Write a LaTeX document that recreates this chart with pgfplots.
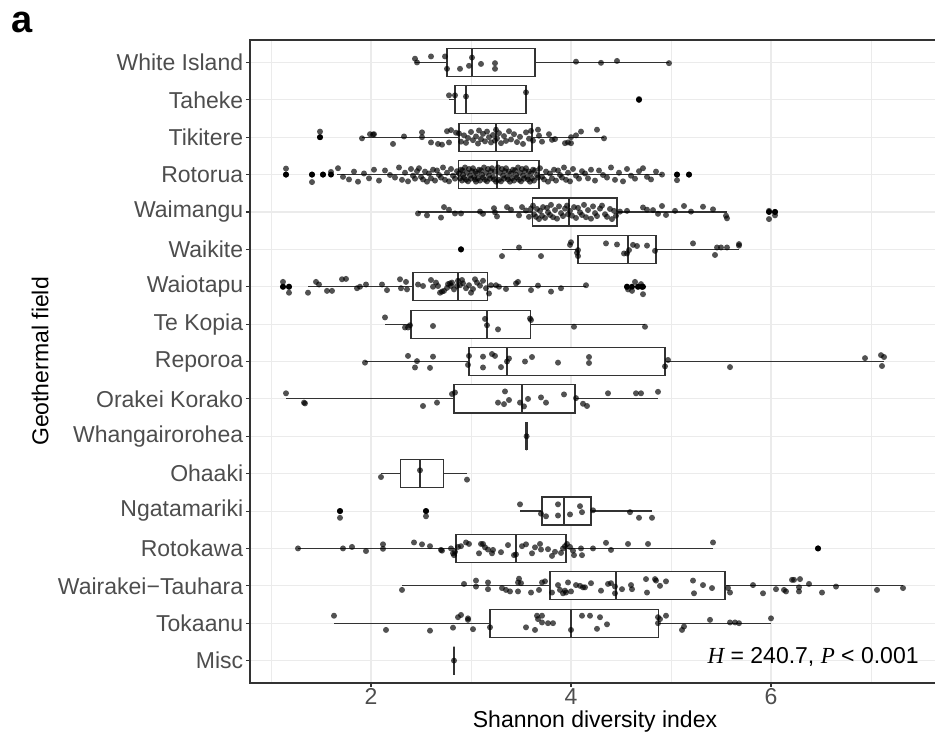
\documentclass[border=0pt]{standalone}
\usepackage{fontspec}
\setmainfont{Liberation Sans}
\newfontfamily\serifit{Liberation Serif}
\usepackage{pgfplots}
\pgfplotsset{compat=1.18}
\usepgfplotslibrary{statistics}
\definecolor{gridc}{HTML}{EBEBEB}
\definecolor{bord}{HTML}{333333}
\definecolor{ticklab}{HTML}{4D4D4D}
\pgfplotsset{
  bpstyle/.style={draw=bord, fill=white, line width=0.6pt, solid},
  jit/.style={only marks, mark=*, mark size=1.5pt, mark options={line width=0pt, draw opacity=0, fill=black, fill opacity=0.68}},
}
\newcommand{\bp}[6]{\addplot[bpstyle, boxplot prepared={draw position=#1, lower whisker=#2, lower quartile=#3, median=#4, upper quartile=#5, upper whisker=#6}] coordinates {};}
\begin{document}
\begin{tikzpicture}
\path[use as bounding box] (-125pt,-26pt) rectangle (342.5pt,341.5pt);
\begin{axis}[
  at={(0,0)}, anchor=south west,
  scale only axis, width=345pt, height=321.5pt,
  xmin=0.79, xmax=7.69, ymin=0.4, ymax=17.6, y dir=reverse,
  xtick={2,4,6}, minor xtick={1,3,5,7},
  ytick={1,2,3,4,5,6,7,8,9,10,11,12,13,14,15,16,17},
  yticklabels={White Island,Taheke,Tikitere,Rotorua,Waimangu,Waikite,Waiotapu,Te Kopia,Reporoa,Orakei Korako,Whangairorohea,Ohaaki,Ngatamariki,Rotokawa,Wairakei−Tauhara,Tokaanu,Misc},
  grid=both,
  major grid style={draw=gridc, line width=0.55pt},
  minor grid style={draw=gridc, line width=0.3pt},
  axis line style={draw=bord, line width=0.6pt},
  tick align=outside, major tick length=2pt, minor tick length=0pt,
  tick style={draw=bord, line width=0.55pt},
  tick pos=left,
  ticklabel style={font=\fontsize{11.5}{13}\selectfont, text=ticklab},
  xticklabel style={yshift=2.8pt},
  yticklabel style={xshift=2.1pt},
  /pgf/number format/assume math mode=true,
  xlabel={Shannon diversity index}, ylabel={Geothermal field},
  label style={font=\fontsize{11.5}{13}\selectfont},
  xlabel style={at={(axis description cs:0.5,-0.0684)}, anchor=base},
  ylabel style={at={(axis description cs:-0.304,0.5)}, anchor=center},
  boxplot/draw direction=x,
  boxplot/box extend=0.75,
  boxplot/whisker extend=0,
  boxplot/every median/.style={line width=1.2pt},
]
% boxes
\bp{1}{2.44}{2.76}{3.01}{3.64}{4.98}
\bp{2}{2.78}{2.84}{2.95}{3.55}{3.55}
\bp{3}{1.91}{2.88}{3.25}{3.61}{4.33}
\bp{4}{1.66}{2.875}{3.257}{3.68}{4.91}
\bp{5}{2.47}{3.613}{3.978}{4.46}{5.56}
\bp{6}{3.31}{4.07}{4.57}{4.85}{5.68}
\bp{7}{1.37}{2.42}{2.87}{3.165}{4.15}
\bp{8}{2.14}{2.40}{3.16}{3.596}{4.74}
\bp{9}{1.94}{2.98}{3.36}{4.94}{7.13}
\bp{10}{1.15}{2.83}{3.51}{4.04}{4.87}
\bp{11}{3.556}{3.556}{3.556}{3.556}{3.556}
\bp{12}{2.10}{2.295}{2.49}{2.725}{2.96}
\bp{13}{3.49}{3.71}{3.93}{4.20}{4.81}
\bp{14}{1.27}{2.85}{3.45}{3.95}{5.42}
\bp{15}{2.31}{3.79}{4.45}{5.54}{7.32}
\bp{16}{1.63}{3.19}{4.00}{4.875}{6.00}
\bp{17}{2.83}{2.83}{2.83}{2.83}{2.83}
% outliers (boxplot)
\addplot[only marks, mark=*, mark size=1.5pt, mark options={line width=0pt, draw opacity=0, fill=black}] coordinates {
(4.68,2) (1.49,3) (1.15,4) (1.41,4) (1.52,4) (1.60,4) (5.06,4) (5.18,4) (5.98,5) (6.04,5) (2.90,6)
(1.12,7) (1.18,7) (4.56,7) (4.61,7) (4.67,7) (4.71,7) (4.72,7) (1.69,13) (2.55,13) (6.47,14)};
% White Island
\addplot[jit] coordinates {(2.44,0.90) (2.46,1.00) (2.60,0.84) (2.74,0.84) (2.76,1.17) (2.89,1.17) (2.98,1.09) (3.01,0.87) (3.10,1.04) (3.24,1.02) (3.24,1.17) (4.05,0.98) (4.30,1.01) (4.46,0.96) (4.98,1.02)};
% Taheke
\addplot[jit] coordinates {(2.78,1.88) (2.84,1.88) (2.95,1.91) (3.55,1.80) (4.68,1.98)};
% Tikitere
\addplot[jit] coordinates {(1.49,2.85) (1.49,3.00) (1.91,3.03) (1.99,2.92) (2.02,2.93) (2.03,2.92) (2.22,3.18) (2.33,2.98) (2.51,2.87) (2.51,3.00) (2.60,3.14) (2.67,3.18) (2.71,3.20) (2.76,2.84) (2.80,2.81) (2.85,2.88) (2.78,3.14)
(2.88,2.90) (2.90,3.12) (2.93,2.95) (2.95,3.15) (2.97,3.02) (3.00,2.86) (3.02,3.08) (3.05,2.98) (3.07,3.17) (3.08,2.82) (3.10,3.05) (3.12,2.91) (3.14,3.11) (3.16,2.85) (3.18,3.00) (3.20,3.14) (3.22,2.94) (3.24,3.09) (3.25,2.80) (3.26,3.03) (3.28,2.89) (3.30,3.16) (3.33,2.97) (3.35,3.10) (3.38,2.84) (3.40,3.06) (3.43,2.92) (3.46,3.13) (3.49,2.99) (3.52,3.18) (3.55,2.87) (3.58,3.04) (3.60,2.83) (3.62,3.09)
(3.67,2.80) (3.68,2.96) (3.71,3.12) (3.78,2.92) (3.81,3.07) (3.84,3.05) (3.94,3.16) (3.97,3.14) (4.00,3.16) (4.00,3.00) (4.05,2.95) (4.10,2.85) (4.26,2.80) (4.33,3.03)};
% Rotorua
\addplot[jit] coordinates {(1.15,3.84) (1.15,4.00) (1.41,4.00) (1.41,4.20) (1.52,4.00) (1.60,3.93) (5.06,4.00) (5.06,4.15) (5.18,4.00)
(1.67,3.83) (1.72,4.06) (1.78,4.13) (1.83,3.92) (1.87,4.19) (1.93,3.97) (1.98,4.10) (2.03,3.87) (2.08,4.16) (2.14,3.89) (2.19,4.01) (2.24,4.08) (2.28,3.81) (2.31,4.14) (2.34,3.95) (2.37,4.18) (2.40,3.85) (2.42,4.03) (2.44,4.11) (2.46,3.91)
(2.48,3.83) (2.50,4.06) (2.52,4.13) (2.54,3.92) (2.56,4.19) (2.58,3.97) (2.60,4.10) (2.62,3.87) (2.64,4.16) (2.66,3.89) (2.68,4.01) (2.70,4.08) (2.72,3.81) (2.74,4.14) (2.76,3.95) (2.78,4.18) (2.80,3.85) (2.82,4.03) (2.84,4.11) (2.86,3.91)
(2.88,3.97) (2.89,4.10) (2.90,3.87) (2.91,4.16) (2.915,3.89) (2.92,4.01) (2.93,4.08) (2.94,3.81) (2.95,4.14) (2.96,3.95) (2.97,4.18) (2.98,3.85) (2.99,4.03) (3.00,4.11) (3.01,3.91) (3.02,3.83) (3.03,4.06) (3.04,4.13) (3.045,3.92) (3.05,4.19)
(3.06,3.97) (3.07,4.10) (3.08,3.87) (3.09,4.16) (3.10,3.89) (3.11,4.01) (3.12,4.08) (3.13,3.81) (3.14,4.14) (3.15,3.95) (3.16,4.18) (3.17,3.85) (3.18,4.03) (3.19,4.11) (3.20,3.91) (3.21,3.83) (3.22,4.06) (3.23,4.13) (3.24,3.92) (3.25,4.19)
(3.27,3.81) (3.28,4.14) (3.29,3.95) (3.30,4.18) (3.31,3.85) (3.32,4.03) (3.33,4.11) (3.34,3.91) (3.35,3.83) (3.36,4.06) (3.37,4.13) (3.38,3.92) (3.39,4.19) (3.40,3.97) (3.41,4.10) (3.42,3.87) (3.43,4.16) (3.44,3.89) (3.45,4.01) (3.46,4.08)
(3.47,3.81) (3.48,4.14) (3.49,3.95) (3.50,4.18) (3.51,3.85) (3.52,4.03) (3.53,4.11) (3.54,3.91) (3.55,3.83) (3.56,4.06) (3.57,4.13) (3.58,3.92) (3.59,4.19) (3.60,3.97) (3.61,4.10) (3.62,3.87) (3.63,4.16) (3.64,3.89) (3.66,4.01) (3.67,4.08)
(3.69,3.83) (3.71,4.06) (3.73,4.13) (3.75,3.92) (3.77,4.19) (3.79,3.97) (3.81,4.10) (3.83,3.87) (3.85,4.16) (3.87,3.89) (3.89,4.01) (3.91,4.08) (3.93,3.81) (3.95,4.14) (3.97,3.95) (3.99,4.18) (4.02,3.85) (4.05,4.03) (4.08,4.11) (4.11,3.91)
(4.14,3.97) (4.17,4.10) (4.20,3.87) (4.24,4.16) (4.28,3.89) (4.32,4.01) (4.36,4.08) (4.40,3.81) (4.44,4.14) (4.48,3.95) (4.52,4.18) (4.56,3.85) (4.60,4.03) (4.64,4.11) (4.68,3.91) (4.72,3.83) (4.76,4.06) (4.80,4.13) (4.85,3.92) (4.91,4.00)};
% Waimangu
\addplot[jit] coordinates {(2.47,5.04) (2.56,5.09) (2.70,5.15) (2.73,4.87) (2.78,4.94) (2.84,5.04) (2.90,5.04) (3.09,4.99) (3.12,5.05) (3.23,4.90) (3.24,5.01) (3.26,5.12) (3.36,4.87) (3.40,4.94) (3.48,5.09) (3.51,4.87) (3.55,4.96) (3.58,5.13) (3.60,4.91)
(3.62,4.83) (3.63,5.06) (3.65,5.13) (3.66,4.92) (3.68,5.19) (3.69,4.97) (3.71,5.10) (3.72,4.87) (3.74,5.16) (3.76,4.89) (3.77,5.01) (3.79,5.08) (3.80,4.81) (3.82,5.14) (3.84,4.95) (3.86,5.18) (3.88,4.85) (3.90,5.03) (3.92,5.11) (3.94,4.91) (3.96,4.83) (3.97,5.06)
(3.99,4.97) (4.01,5.10) (4.03,4.87) (4.05,5.16) (4.07,4.89) (4.09,5.01) (4.11,5.08) (4.13,4.81) (4.15,5.14) (4.17,4.95) (4.20,5.18) (4.22,4.85) (4.24,5.03) (4.26,5.11) (4.29,4.91) (4.31,4.83) (4.34,5.06) (4.36,5.13) (4.39,4.92) (4.41,5.19) (4.43,4.97) (4.45,5.10)
(4.49,4.99) (4.56,4.97) (4.72,4.88) (4.76,4.94) (4.82,4.95) (4.87,5.05) (4.91,4.84) (4.95,5.08) (5.04,4.97) (5.13,4.84) (5.20,4.99) (5.32,4.86) (5.42,4.93) (5.55,5.10) (5.56,5.17)
(5.98,4.97) (5.98,5.19) (6.04,5.00) (6.04,5.09)};
% Waikite
\addplot[jit] coordinates {(2.90,6.00) (3.31,6.18) (3.48,5.95) (3.70,6.18) (3.99,5.88) (4.00,5.81) (4.07,6.02) (4.07,6.18) (4.06,6.09) (4.35,5.84) (4.46,5.87) (4.53,6.11) (4.56,6.11) (4.58,6.02) (4.62,5.88) (4.66,5.91) (4.76,5.90) (4.84,6.04) (5.22,5.84) (5.44,6.15) (5.46,5.95) (5.50,5.95) (5.56,5.95) (5.68,5.86) (5.68,5.90)};
% Waiotapu
\addplot[jit] coordinates {(1.12,6.87) (1.12,7.00) (1.18,7.00) (1.18,7.16) (4.56,7.00) (4.57,7.07) (4.61,7.11) (4.64,6.87) (4.67,7.00) (4.70,6.93) (4.71,7.00) (4.72,7.20)
(1.37,7.16) (1.45,6.87) (1.48,6.94) (1.56,7.11) (1.61,7.11) (1.71,6.80) (1.75,6.79) (1.86,7.04) (1.89,7.00) (1.95,6.94) (2.11,6.94) (2.16,7.09) (2.29,6.80) (2.30,7.04) (2.35,6.87) (2.36,7.07)
(2.47,6.94) (2.52,6.98) (2.60,6.82) (2.62,7.00) (2.65,6.89) (2.67,6.98) (2.69,7.16) (2.71,7.13) (2.73,7.11) (2.76,7.03) (2.77,6.93) (2.79,6.91) (2.80,6.98) (2.81,6.89) (2.83,7.07) (2.86,6.98) (2.87,6.84) (2.89,6.96) (2.91,6.82) (2.92,6.91) (2.95,7.04) (2.98,6.96) (3.00,7.16) (3.02,7.06) (3.04,6.80) (3.06,6.89) (3.09,6.97) (3.12,6.84) (3.15,7.04)
(3.18,7.18) (3.20,6.96) (3.25,6.96) (3.28,7.00) (3.35,7.06) (3.45,6.91) (3.47,6.87) (3.60,7.09) (3.67,6.97) (3.80,7.13) (3.90,7.04) (4.15,6.96)};
% Te Kopia
\addplot[jit] coordinates {(2.14,7.82) (2.34,8.09) (2.37,8.09) (2.39,8.03) (2.62,8.05) (3.14,7.86) (3.16,8.03) (3.27,8.14) (3.59,7.85) (3.60,7.89) (4.03,8.07) (4.74,8.07)};
% Reporoa
\addplot[jit] coordinates {(1.94,9.03) (2.37,8.85) (2.44,9.16) (2.46,8.99) (2.59,9.17) (2.62,8.87) (2.97,9.09) (2.98,8.85) (3.12,8.87) (3.12,9.16) (3.21,8.80) (3.24,8.85) (3.30,9.15) (3.36,9.00) (3.38,8.92) (3.54,9.00) (3.61,8.88) (3.87,9.03) (4.18,8.88) (4.18,9.04) (4.94,9.13) (4.97,8.96) (5.59,9.15) (6.94,8.91) (7.10,8.83) (7.13,8.88) (7.11,9.12)};
% Orakei Korako
\addplot[jit] coordinates {(1.15,9.85) (1.33,10.10) (1.34,10.12) (2.52,10.19) (2.66,10.10) (2.81,9.87) (2.84,9.83) (3.27,10.10) (3.33,10.14) (3.34,9.80) (3.38,10.03) (3.49,10.10) (3.53,10.20) (3.57,10.00) (3.70,9.96) (3.75,10.10) (3.93,9.88) (4.05,9.98) (4.12,10.13) (4.16,10.19) (4.37,9.85) (4.65,9.85) (4.70,9.85) (4.87,9.81)};
% Whangairorohea
\addplot[jit] coordinates {(3.556,11.00)};
% Ohaaki
\addplot[jit] coordinates {(2.10,12.09) (2.49,11.91) (2.96,12.16)};
% Ngatamariki
\addplot[jit] coordinates {(1.69,13.00) (1.69,13.18) (2.55,13.00) (2.55,13.14) (3.49,12.82) (3.70,13.07) (3.75,13.14) (3.87,12.82) (3.87,13.12) (3.99,13.09) (4.09,12.87) (4.11,13.03) (4.22,12.98) (4.59,13.03) (4.68,13.18) (4.81,13.18)};
% Rotokawa
\addplot[jit] coordinates {(1.27,14.00) (1.72,14.00) (1.81,13.96) (1.95,14.07) (2.12,13.89) (2.12,14.01) (2.43,13.84) (2.51,13.89) (2.59,13.94) (2.70,14.04) (2.71,14.06) (2.80,14.00) (2.82,14.13) (2.83,14.18) (2.84,14.09) (2.87,13.96) (2.90,13.94) (2.95,13.84) (2.98,13.88) (3.08,14.13) (3.10,13.88) (3.12,13.88) (3.14,13.97) (3.17,14.03) (3.21,14.13) (3.22,14.04) (3.30,14.10) (3.37,13.91) (3.43,14.18) (3.45,14.16) (3.51,13.94) (3.55,13.89) (3.61,14.13) (3.64,13.97) (3.69,13.88) (3.70,14.03) (3.77,14.02) (3.81,14.20) (3.84,14.09) (3.90,14.12) (3.92,14.00) (3.94,13.94) (3.96,13.88) (3.99,13.96) (4.02,14.06) (4.03,14.18) (4.10,14.00) (4.11,14.18) (4.22,14.00) (4.35,13.85) (4.40,14.04) (4.57,13.88) (4.77,13.88) (5.42,13.84) (6.47,14.00)};
% Wairakei-Tauhara
\addplot[jit] coordinates {(2.31,15.11) (2.93,14.95) (3.05,14.86) (3.05,15.02) (3.17,14.91) (3.17,15.09) (3.31,15.06) (3.35,15.11) (3.39,15.15) (3.47,14.91) (3.47,15.15) (3.48,14.81) (3.50,14.93) (3.60,15.18) (3.68,15.11) (3.71,14.91) (3.74,14.88) (3.81,15.18) (3.87,14.98) (3.89,15.11) (3.92,15.20) (3.94,15.13) (3.97,14.91) (3.95,15.18) (4.00,15.15) (4.05,14.98) (4.09,15.00) (4.12,15.04) (4.20,14.93) (4.14,15.04) (4.30,15.13) (4.37,14.95) (4.40,14.93) (4.44,15.02) (4.44,15.20) (4.51,15.09) (4.60,14.98) (4.61,15.09) (4.75,14.82) (4.76,15.18) (4.84,14.82) (4.85,14.86) (4.89,15.00) (4.95,14.88) (5.22,14.86) (5.23,15.20) (5.32,14.98) (5.41,15.06) (5.57,15.06) (5.59,15.18) (5.82,14.98) (5.92,15.20) (6.05,15.09) (6.13,15.11) (6.15,15.15) (6.21,14.84) (6.23,14.84) (6.29,14.82) (6.28,15.04) (6.28,15.15) (6.38,14.95) (6.51,15.18) (6.65,15.02) (7.06,15.11) (7.32,15.06)};
% Tokaanu
\addplot[jit] coordinates {(1.63,15.80) (2.15,16.18) (2.59,16.20) (2.82,16.12) (2.87,15.84) (2.90,15.78) (2.97,15.87) (2.97,15.91) (3.02,16.16) (3.19,16.11) (3.55,16.11) (3.64,16.18) (3.66,15.80) (3.67,15.89) (3.71,15.80) (3.71,15.98) (3.77,16.00) (3.82,16.00) (4.00,16.18) (4.11,15.80) (4.19,15.80) (4.29,15.84) (4.26,16.15) (4.36,16.03) (4.87,15.84) (4.89,15.89) (4.87,16.00) (4.95,15.80) (5.11,16.18) (5.13,16.09) (5.39,15.91) (5.59,15.98) (5.64,15.98) (5.68,16.00) (6.00,15.87)};
% Misc
\addplot[jit] coordinates {(2.83,17.00)};
\node[anchor=base east, inner sep=0, font=\fontsize{11.5}{13}\selectfont] at (axis cs:7.48,17.09) {{\serifit\itshape H} = 240.7, {\serifit\itshape P} < 0.001};
\end{axis}
\node[anchor=base west, inner sep=0, font=\bfseries\fontsize{19}{19}\selectfont] at (-119.5pt,325pt) {a};
\end{tikzpicture}
\end{document}
